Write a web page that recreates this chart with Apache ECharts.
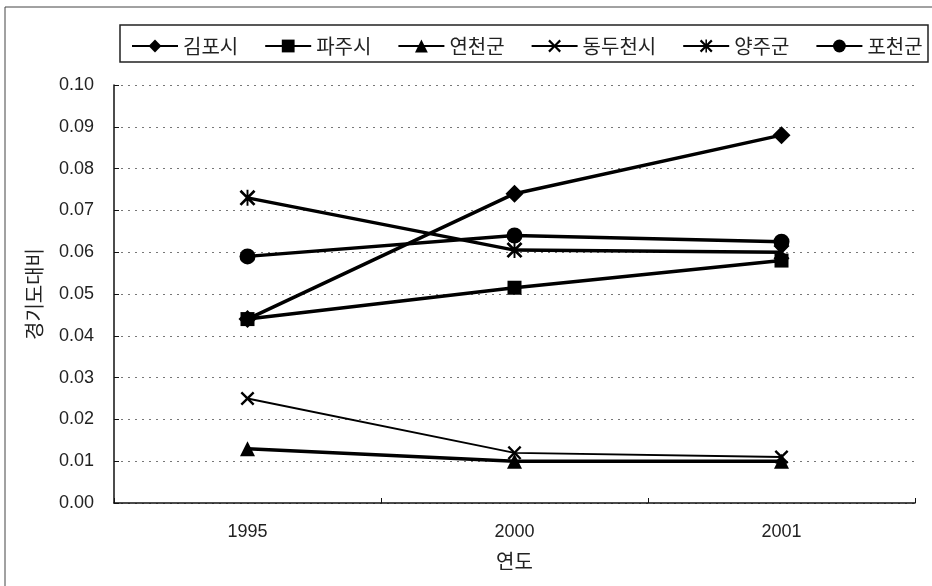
<!DOCTYPE html>
<html>
<head>
<meta charset="utf-8">
<script src="https://cdn.jsdelivr.net/npm/echarts@6/dist/echarts.min.js"></script>
<style>
  html, body { margin: 0; padding: 0; background: #fff; }
  #chart { width: 932px; height: 586px; }
</style>
</head>
<body>
<div id="chart"></div>
<script>
// 연도별 경기도 대비 비율
const years = ['1995', '2000', '2001'];
const gimpo = [0.044, 0.074, 0.088];
const paju = [0.044, 0.0515, 0.058];
const yeoncheon = [0.013, 0.010, 0.010];
const dongducheon = [0.025, 0.012, 0.011];
const yangju = [0.073, 0.0605, 0.060];
const pocheon = [0.059, 0.064, 0.0625];
const yTicks = [0, 0.01, 0.02, 0.03, 0.04, 0.05, 0.06, 0.07, 0.08, 0.09, 0.10];

// 마커 모양 (X, 별표)
const crossPath = 'path://M0,1.2L1.2,0L5,3.8L8.8,0L10,1.2L6.2,5L10,8.8L8.8,10L5,6.2L1.2,10L0,8.8L3.8,5Z';
const starPath = crossPath + 'M4.4,0L5.6,0L5.6,10L4.4,10Z';

const font = '"Liberation Sans", Arial, sans-serif';
const krFont = '"Noto Sans CJK KR", sans-serif';

function mkSeries(name, data, symbol, size, width) {
  return {
    name: name,
    type: 'line',
    data: data,
    symbol: symbol,
    symbolSize: size,
    showAllSymbol: true,
    lineStyle: { color: '#000', width: width },
    itemStyle: { color: '#000' },
    emphasis: { disabled: true },
    animation: false
  };
}

const chart = echarts.init(document.getElementById('chart'));
chart.setOption({
  backgroundColor: '#fff',
  animation: false,
  graphic: [
    { type: 'rect', shape: { x: 5, y: 7, width: 1000, height: 1000 },
      style: { fill: 'none', stroke: '#444', lineWidth: 1 }, silent: true },
    { type: 'rect', shape: { x: 120, y: 25, width: 808, height: 37 },
      style: { fill: 'none', stroke: '#222', lineWidth: 1.5 }, silent: true }
  ],
  legend: {
    left: 126,
    top: 31,
    itemWidth: 46,
    itemHeight: 16,
    itemGap: 26,
    textStyle: { fontSize: 20, fontFamily: krFont, color: '#222' },
    data: ['김포시', '파주시', '연천군', '동두천시', '양주군', '포천군']
  },
  grid: { left: 114, right: 17, top: 85, bottom: 83 },
  xAxis: {
    type: 'category',
    data: years,
    boundaryGap: true,
    name: '연도',
    nameLocation: 'middle',
    nameGap: 48,
    nameTextStyle: { fontSize: 20, fontFamily: krFont, color: '#222' },
    axisLine: { lineStyle: { color: '#111', width: 1.5 } },
    axisTick: { show: true, inside: true, length: 5, lineStyle: { color: '#111' } },
    axisLabel: { fontSize: 18, fontFamily: font, color: '#222', margin: 20 },
    splitLine: { show: false }
  },
  yAxis: {
    type: 'value',
    min: 0,
    max: 0.1,
    interval: 0.01,
    name: '경기도대비',
    nameLocation: 'middle',
    nameGap: 70,
    nameRotate: 90,
    nameTextStyle: { fontSize: 20, fontFamily: krFont, color: '#222' },
    axisLine: { show: true, lineStyle: { color: '#111', width: 1.5 } },
    axisTick: { show: true, inside: true, length: 5, lineStyle: { color: '#111' } },
    axisLabel: {
      fontSize: 18, fontFamily: font, color: '#222', margin: 20,
      formatter: function (v) {
        const t = yTicks.find(function (x) { return Math.abs(x - v) < 1e-9; });
        return (t !== undefined ? t : v).toFixed(2);
      }
    },
    splitLine: { show: true, lineStyle: { color: '#777', type: [2, 5], width: 1 } }
  },
  series: [
    mkSeries('김포시', gimpo, 'diamond', 18, 3.5),
    mkSeries('파주시', paju, 'rect', 14, 3.5),
    mkSeries('연천군', yeoncheon, 'triangle', 15, 3.5),
    mkSeries('동두천시', dongducheon, crossPath, 14, 1.8),
    mkSeries('양주군', yangju, starPath, 16, 3.5),
    mkSeries('포천군', pocheon, 'circle', 16, 3.5)
  ]
});
</script>
</body>
</html>
